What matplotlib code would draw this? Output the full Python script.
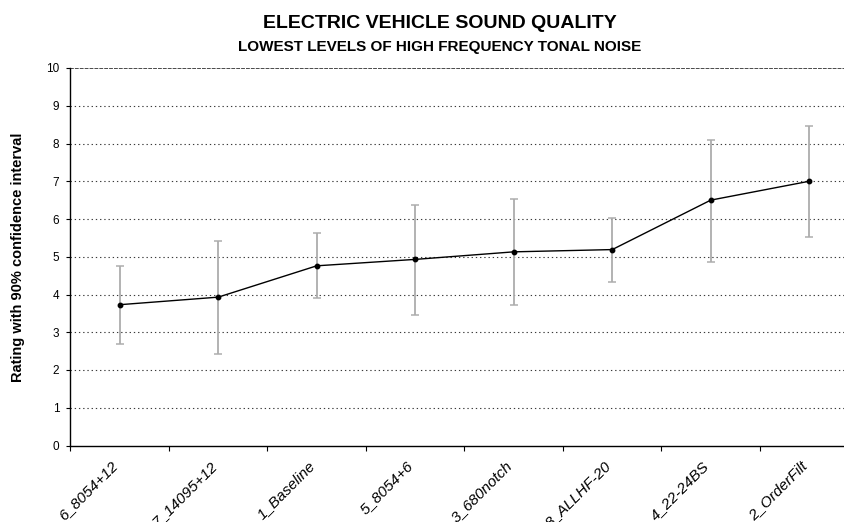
import matplotlib
matplotlib.use("Agg")
import matplotlib.pyplot as plt
import matplotlib.transforms as mtrans
import numpy as np

plt.rcParams['font.family'] = ['Liberation Sans', 'DejaVu Sans']

categories = ["6_8054+12", "7_14095+12", "1_Baseline", "5_8054+6",
              "3_680notch", "8_ALLHF-20", "4_22-24BS", "2_OrderFilt"]
ratings = [3.73, 3.93, 4.76, 4.93, 5.13, 5.19, 6.50, 7.00]
ci_low = [2.69, 2.42, 3.90, 3.46, 3.71, 4.33, 4.86, 5.51]
ci_high = [4.75, 5.42, 5.62, 6.38, 6.53, 6.03, 8.10, 8.46]

W, H = 845, 522
fig = plt.figure(figsize=(W / 100, H / 100), dpi=100)
# plot area runs past the right edge of the picture, as in the original
ax = fig.add_axes([70.5 / W, (H - 445.5) / H, 788 / W, 377.5 / H])

x = np.arange(len(categories))
y = np.array(ratings)
yerr = [y - np.array(ci_low), np.array(ci_high) - y]

# gridlines
for g in range(1, 10):
    ax.axhline(g, color="#3a3a3a", lw=0.8, ls=(0, (1.2, 2.6)), zorder=1)
ax.axhline(10, color="#1a1a1a", lw=1.1, ls=(0, (2.5, 0.7)), zorder=1)

ax.errorbar(x, y, yerr=yerr, fmt="none", ecolor="#adadad", elinewidth=1.3,
            capsize=3, capthick=1.1, zorder=2)
ax.plot(x, y, color="black", lw=1.0, marker="o", markersize=3.2, zorder=3)

ax.set_xlim(-0.5, len(categories) - 0.5)
ax.set_ylim(0, 10)
ax.set_yticks(range(0, 11))
ax.tick_params(axis="y", length=3, width=0.8, pad=5, labelsize=8.5)

ax.set_xticks(np.arange(len(categories) + 1) - 0.5)
ax.set_xticklabels([])
ax.set_xticks(x, minor=True)
ax.set_xticklabels(categories, minor=True, rotation=45, ha="right",
                   va="center", rotation_mode="anchor", fontsize=11,
                   style="italic")
ax.tick_params(axis="x", which="major", length=3.5, width=0.8)
ax.tick_params(axis="x", which="minor", length=0, pad=13)
shift = mtrans.ScaledTranslation(-4 / 100, 0, fig.dpi_scale_trans)
for lab in ax.get_xticklabels(minor=True):
    lab.set_transform(lab.get_transform() + shift)

for s in ["top", "right"]:
    ax.spines[s].set_visible(False)
for s in ["left", "bottom"]:
    ax.spines[s].set_linewidth(1.0)

fig.text(18 / W, 1 - 257 / H, "Rating with 90% confidence interval",
         rotation=90, ha="center", va="center", fontsize=10.5,
         fontweight="bold")

fig.text(440 / W, 1 - 24 / H, "ELECTRIC VEHICLE SOUND QUALITY",
         ha="center", va="center", fontsize=14, fontweight="bold")
fig.text(440 / W, 1 - 46.5 / H, "LOWEST LEVELS OF HIGH FREQUENCY TONAL NOISE",
         ha="center", va="center", fontsize=11, fontweight="bold")

fig.savefig("out.png", dpi=100)
